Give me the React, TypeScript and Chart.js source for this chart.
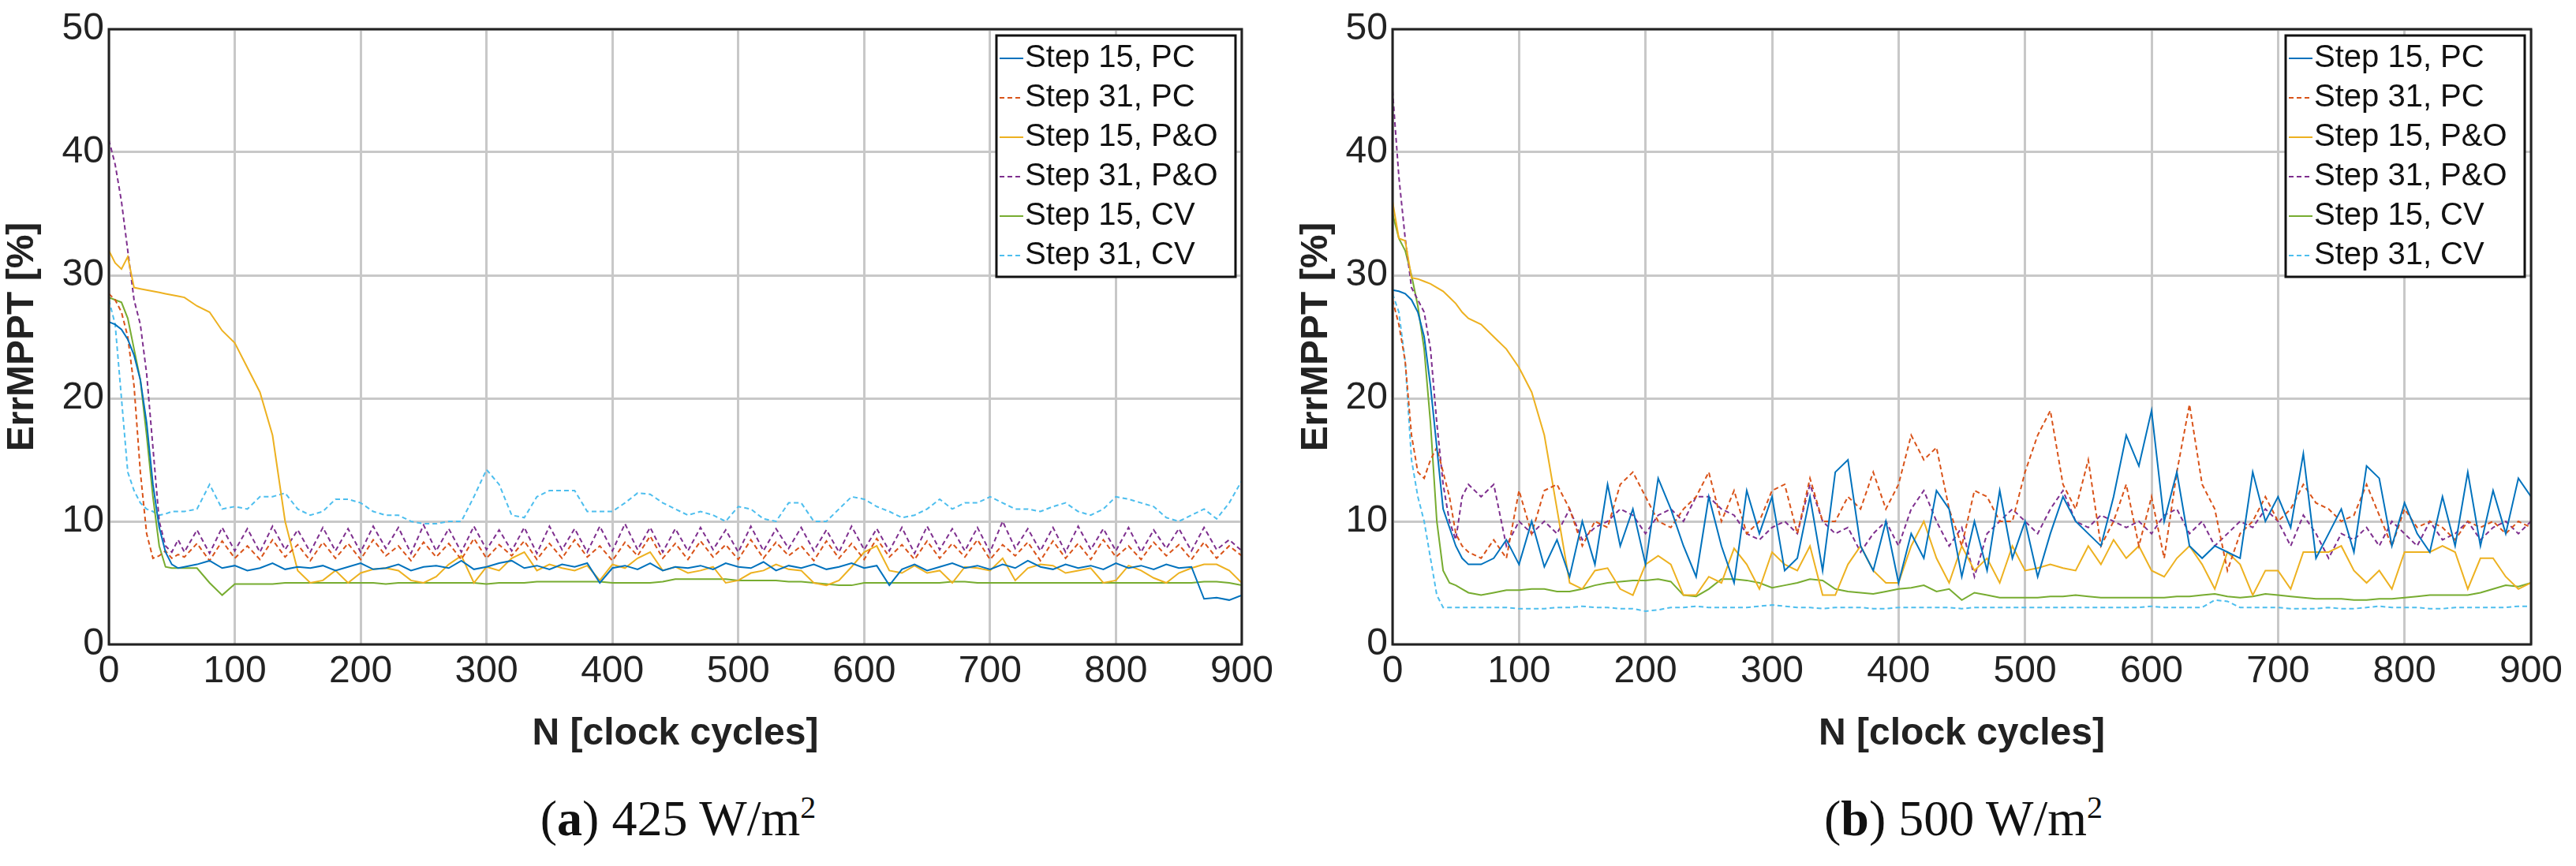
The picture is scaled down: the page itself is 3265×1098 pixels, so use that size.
import React, { useEffect, useRef } from "react";
import { Chart, registerables } from "chart.js";
Chart.register(...registerables);

const xs = [0,5,10,15,20,25,30,35,40,45,50,55,60,
70,80,90,100,110,120,130,140,150,160,170,180,190,200,210,220,230,240,250,260,270,280,290,300,310,320,330,340,350,360,
370,380,390,400,410,420,430,440,450,460,470,480,490,500,510,520,530,540,550,560,570,580,590,600,610,620,630,640,650,660,
670,680,690,700,710,720,730,740,750,760,770,780,790,800,810,820,830,840,850,860,870,880,890,900];

const seriesNames = ["Step 15, PC","Step 31, PC","Step 15, P&O","Step 31, P&O","Step 15, CV","Step 31, CV"];
const seriesColors = ["#0072BD","#D95319","#EDB120","#7E2F8E","#77AC30","#4DBEEE"];
const seriesDashed = [false,true,false,true,false,true];

// Panel (a) 425 W/m2
const a_pc15 = [26.2,26,25.6,24.8,23.5,21.5,18,13,9.5,7.5,6.5,6.2,6.3,
6.5,6.8,6.2,6.4,6.0,6.2,6.6,6.1,6.3,6.2,
6.4,6.0,6.3,6.6,6.1,6.2,6.5,6.0,6.3,6.4,
6.2,6.8,6.1,6.3,6.6,6.8,6.2,6.4,6.1,6.5,
6.3,6.6,5.0,6.2,6.4,6.1,6.6,6.0,6.3,6.2,
6.4,6.1,6.6,6.3,6.2,6.7,6.0,6.4,6.2,6.5,
6.1,6.3,6.6,6.2,6.4,4.8,6.1,6.5,6.0,6.3,
6.6,6.2,6.4,6.1,6.5,6.2,6.8,6.3,6.1,6.5,
6.2,6.4,6.1,6.6,6.2,6.4,6.1,6.5,6.2,6.3,
3.7,3.8,3.6,4.0];
const a_pc31 = [28.5,28,27,25,21,14,9,7,7.2,7.6,7.0,7.3,7.1,
8.2,6.8,8.4,7.0,8.0,6.9,8.5,7.1,8.1,6.8,
8.3,7.0,8.2,6.9,8.5,7.2,8.0,6.8,8.3,7.1,
8.2,6.9,8.6,7.0,8.1,7.2,8.4,6.9,8.2,7.0,
8.5,7.1,8.0,6.8,8.3,7.2,8.8,7.0,8.2,6.9,
8.4,7.1,8.1,6.9,8.5,7.0,8.3,7.2,8.0,6.8,
8.4,7.0,8.2,6.9,8.6,7.1,8.1,6.9,8.4,7.0,
8.2,7.1,8.5,6.9,8.1,7.2,8.3,6.8,8.4,7.0,
8.2,6.9,8.5,7.1,8.0,6.9,8.3,7.2,8.1,6.9,
8.3,7.0,8.0,7.2];
const a_po15 = [32,31,30.5,31.5,29,28.9,28.8,28.7,28.6,28.5,28.4,28.3,28.2,
27.5,27,25.5,24.5,22.5,20.5,17,10,6,5.0,
5.2,6.0,5.0,5.8,6.1,6.2,6.0,5.2,5.0,5.5,
6.5,7.2,5.0,6.3,6.0,7.0,7.5,6.0,6.5,6.2,
6.0,6.4,5.2,6.5,6.2,7.0,7.5,6.0,6.3,5.8,
6.0,6.3,5.0,5.2,5.8,6.0,6.5,6.1,6.0,5.0,
4.8,5.2,6.3,7.5,8.0,6.0,5.8,6.4,5.8,6.0,
5.0,6.3,6.2,6.0,7.0,5.2,6.2,6.5,6.4,5.8,
6.0,6.2,5.0,5.2,6.4,6.0,5.4,5.0,5.8,6.2,
6.5,6.5,6.0,5.0];
const a_po31 = [41,39,36,32,28,26,22,16,10,8,7.5,8.5,7.5,
9.3,7.4,9.5,7.6,9.4,7.5,9.6,7.7,9.3,7.5,
9.5,7.6,9.4,7.5,9.6,7.8,9.5,7.4,9.7,7.6,
9.4,7.5,9.6,7.7,9.3,7.6,9.5,7.4,9.6,7.7,
9.4,7.5,9.6,7.6,9.8,7.7,9.5,7.5,9.4,7.6,
9.5,7.7,9.3,7.5,9.6,7.6,9.4,7.8,9.5,7.6,
9.3,7.5,9.6,7.7,9.4,7.6,9.5,7.4,9.6,7.7,
9.4,7.6,9.5,7.5,10,7.8,9.4,7.6,9.5,7.5,
9.6,7.7,9.4,7.6,9.5,7.5,9.3,7.8,9.4,7.6,
9.5,7.7,8.5,7.6];
const a_cv15 = [28.2,28,27.8,26.5,24,21.5,17,12,8,6.3,6.2,6.2,6.2,
6.2,5.0,4.0,4.9,4.9,4.9,4.9,5.0,5.0,5.0,
5.0,5.0,5.0,5.0,5.0,4.9,5.0,5.0,5.0,5.0,
5.0,5.0,5.0,4.9,5.0,5.0,5.0,5.1,5.1,5.1,
5.1,5.1,5.1,5.0,5.0,5.0,5.0,5.1,5.3,5.3,
5.3,5.3,5.3,5.2,5.2,5.2,5.2,5.1,5.1,5.0,
4.9,4.8,4.8,5.0,5.0,5.0,5.0,5.0,5.0,5.0,
5.1,5.1,5.0,5.0,5.0,5.0,5.0,5.0,5.0,5.0,
5.0,5.0,5.0,5.0,5.0,5.0,5.0,5.0,5.0,5.0,
5.1,5.1,5.0,4.8];
const a_cv31 = [28,26,20,14,12.5,11.5,11,10.8,10.5,10.6,10.8,10.8,10.8,
11,13,11,11.2,11,12,12,12.3,11,10.5,
10.8,11.8,11.8,11.5,10.8,10.5,10.5,10,9.8,9.8,
10,10,12,14.2,13,10.5,10.3,12,12.5,12.5,
12.5,10.8,10.8,10.8,11.5,12.3,12.2,11.5,11,10.5,
10.8,10.5,10,11.2,11,10.2,10,11.5,11.5,10,
10,11,12,11.8,11.2,10.8,10.3,10.5,11,11.8,
11,11.5,11.5,12,11.5,11,11,10.8,11.2,11.5,
10.8,10.5,11,12,11.8,11.5,11.2,10.3,10,10.5,
11,10.2,11.5,13.3];

// Panel (b) 500 W/m2
const b_pc15 = [28.8,28.7,28.5,28,27,25,21,16,11,9.5,8,7,6.5,
6.5,7.0,8.5,6.5,10,6.3,8.5,5.5,10,6.5,
13,8,11,6.5,13.5,11,8,5.5,12,8,
5,12.5,9,12,6,7,12,6,14,15,
8,6,10,5,9,7,12.5,11,5.5,10,
6,12.5,7,10,5.5,9,12,10,9,8,
12,17,14.5,19,10,14,8,7,8,7.5,
7,14,10,12,9.5,15.5,7,9,11,7.5,
14.5,13.5,8,11.5,9,7.5,12,8,14,8,
12.5,9,13.5,12];
const b_pc31 = [28,26,23,17,14,13.5,15,16,14,12,9,8,7.5,
7,8.5,7,12.5,9,12.5,13,11,8,10,
9.5,13,14,12,10,9.5,11,12,14,10,
12.5,9,10,12.5,13,9,13.5,10,10,12,
11,14,11,13,17,15,16,11,8,12.5,
12,10,10,14,17,19,13,11,15,8,
10,13,8,12,7,14,19.5,13,11,6,
9,10,12,10,11,13,11.5,11,10,10.5,
13,10.5,8,11,9.5,10,9.5,8.5,10,9.5,
10,9,10,9.5];
const b_po15 = [36,33,32.8,29.8,29.7,29.5,29.3,29,28.7,28.2,27.7,27,26.5,
26,25,24,22.5,20.5,17,11,5,4.5,6,
6.2,4.5,4,6.5,7.2,6.5,4,4,5.5,5,
7.8,6.5,4.5,7.5,6.5,6,8,4,4,6.5,
8,6,5,5,8,10,7,5,8,6,
7,5,8,6,6.2,6.5,6.2,6,8,6.5,
8.5,7,8,6,5.5,7,8,6.5,4.5,7.5,
6.5,4,6,6,4.5,7.5,7.5,7.5,8,6,
5,6,4.5,7.5,7.5,7.5,8,7.5,4.5,7,
7,5.5,4.5,5];
const b_po31 = [45,38,33,29,28,27,24,18,13,10,8.5,12,13,
12,13,8,10,9,10,9,11,8.5,9.5,
10,11,10.5,9,10.5,11,10,12,12,11,
10.5,9,8.5,9.5,10,9,13,10,9,9.5,
7.5,9,10,8,11,12.5,10,8,9.5,5.5,
9,10,11,10,9,11,12.5,10,9.5,10.5,
10,9.5,10,9,10.5,11,9,10,8,9,
10,9.5,11,10,8,10.5,9,7,9,8.5,
9.5,8,10,9,8,10,8.5,9,10,8.5,
9.5,10,9,10];
const b_cv15 = [35,33,32,30,27.5,24,18,10,6,5,4.8,4.5,4.2,
4,4.2,4.4,4.4,4.5,4.5,4.3,4.3,4.5,4.8,
5,5.1,5.2,5.2,5.3,5.1,4,3.9,4.5,5.3,
5.3,5.2,5,4.6,4.8,5,5.3,5.2,4.5,4.3,
4.2,4.1,4.3,4.5,4.6,4.8,4.3,4.5,3.6,4.2,
4,3.8,3.8,3.8,3.8,3.9,3.9,4,3.9,3.8,
3.8,3.8,3.8,3.8,3.8,3.9,3.9,4,4.1,3.9,
3.8,3.9,4.1,4,3.9,3.8,3.7,3.7,3.7,3.6,
3.6,3.7,3.7,3.8,3.9,4,4,4,4,4.2,
4.5,4.8,4.7,5.0];
const b_cv31 = [28.5,27,23,15,12,10,7,4,3,3,3,3,3,
3,3,3,2.9,2.9,2.9,3,3,3.1,3,
3,2.9,2.9,2.7,2.8,3,3,3.1,3,3,
3,3,3.1,3.2,3.1,3,3,2.9,3,3,
3,2.9,2.9,3,3,3,3,3,2.9,3,
3,3,3,3,3,3,3,3,3,3,
3,3,3,3.1,3,3,3,3,3.6,3.5,
3,3,3,3,2.9,2.9,2.9,3,2.9,2.9,
3,3.1,3,3,3,2.9,2.9,3,3,3,
3,3,3.1,3.1];

const panelA = [a_pc15,a_pc31,a_po15,a_po31,a_cv15,a_cv31];
const panelB = [b_pc15,b_pc31,b_po15,b_po31,b_cv15,b_cv31];

const NARROW = "'Liberation Sans Narrow','Liberation Sans',Arial,sans-serif";

const frameLegendPlugin = {
  id: "frameLegend",
  afterDraw(chart: any) {
    const { ctx, chartArea: ca } = chart;
    ctx.save();
    ctx.strokeStyle = "#222";
    ctx.lineWidth = 3;
    ctx.setLineDash([]);
    ctx.strokeRect(ca.left, ca.top, ca.right - ca.left, ca.bottom - ca.top);
    // legend
    const w = 303, rowH = 50, h = rowH * 6 + 6;
    const x0 = ca.right - w - 8, y0 = ca.top + 8;
    ctx.fillStyle = "#fff";
    ctx.fillRect(x0, y0, w, h);
    ctx.lineWidth = 3;
    ctx.strokeStyle = "#111";
    ctx.strokeRect(x0, y0, w, h);
    ctx.font = "40px " + NARROW;
    ctx.textBaseline = "middle";
    for (let i = 0; i < 6; i++) {
      const cy = y0 + 8 + rowH * i + rowH / 2 - 4;
      ctx.strokeStyle = seriesColors[i];
      ctx.lineWidth = 2;
      ctx.setLineDash(seriesDashed[i] ? [6, 4] : []);
      ctx.beginPath();
      ctx.moveTo(x0 + 4, cy);
      ctx.lineTo(x0 + 34, cy);
      ctx.stroke();
      ctx.setLineDash([]);
      ctx.fillStyle = "#111";
      ctx.fillText(seriesNames[i], x0 + 36, cy);
    }
    ctx.restore();
  },
};

function Panel({ data, yWidth, padRight }: { data: number[][]; yWidth: number; padRight: number }) {
  const ref = useRef<HTMLCanvasElement>(null);
  useEffect(() => {
    const chart = new Chart(ref.current!, {
      type: "line",
      data: {
        datasets: data.map((ys, i) => ({
          label: seriesNames[i],
          data: ys.map((y, j) => ({ x: xs[j], y })),
          borderColor: seriesColors[i],
          borderWidth: 2,
          borderDash: seriesDashed[i] ? [6, 4] : [],
          pointRadius: 0,
          tension: 0,
          fill: false,
        })),
      },
      options: {
        animation: false,
        responsive: false,
        layout: { padding: { top: 37, right: padRight, left: 0, bottom: 0 } },
        plugins: { legend: { display: false }, tooltip: { enabled: false } },
        scales: {
          x: {
            type: "linear", min: 0, max: 900,
            ticks: { stepSize: 100, color: "#222", font: { size: 48, family: NARROW }, maxRotation: 0, padding: 6 },
            grid: { color: "#c8c8c8", lineWidth: 3, drawTicks: false },
            border: { display: false },
            title: { display: true, text: "N [clock cycles]", color: "#222", font: { size: 48, weight: "bold", family: NARROW }, padding: 0 },
            afterFit: (s: any) => { s.height = 143; },
          },
          y: {
            min: 0, max: 50,
            ticks: { stepSize: 10, color: "#222", font: { size: 48, family: NARROW }, padding: 6 },
            grid: { color: "#c8c8c8", lineWidth: 3, drawTicks: false },
            border: { display: false },
            title: { display: true, text: "ErrMPPT [%]", color: "#222", font: { size: 48, weight: "bold", family: "'Liberation Sans',Arial,sans-serif" }, padding: 0 },
            afterFit: (s: any) => { s.width = yWidth; },
          },
        },
      } as any,
      plugins: [frameLegendPlugin],
    });
    return () => chart.destroy();
  }, []);
  return <canvas ref={ref} width={yWidth + 1443 + padRight} height={960} style={{ display: "block" }} />;
}

const capStyle: React.CSSProperties = {
  position: "absolute", top: 1000, fontFamily: "'Liberation Serif','DejaVu Serif',serif",
  fontSize: 64, color: "#111", textAlign: "center", whiteSpace: "nowrap",
};

export default function App() {
  return (
    <div style={{ position: "absolute", left: 0, top: 0, width: 3265, height: 1098, overflow: "hidden", background: "#fff" }}>
      <div style={{ position: "absolute", left: 0, top: 0 }}>
        <Panel data={panelA} yWidth={138} padRight={39} />
      </div>
      <div style={{ position: "absolute", left: 1640, top: 0 }}>
        <Panel data={panelB} yWidth={125} padRight={53} />
      </div>
      <div style={{ ...capStyle, left: 138, width: 1443 }}>
        (<b>a</b>) 425 W/m<sup style={{ fontSize: 40 }}>2</sup>
      </div>
      <div style={{ ...capStyle, left: 1765, width: 1447 }}>
        (<b>b</b>) 500 W/m<sup style={{ fontSize: 40 }}>2</sup>
      </div>
    </div>
  );
}
